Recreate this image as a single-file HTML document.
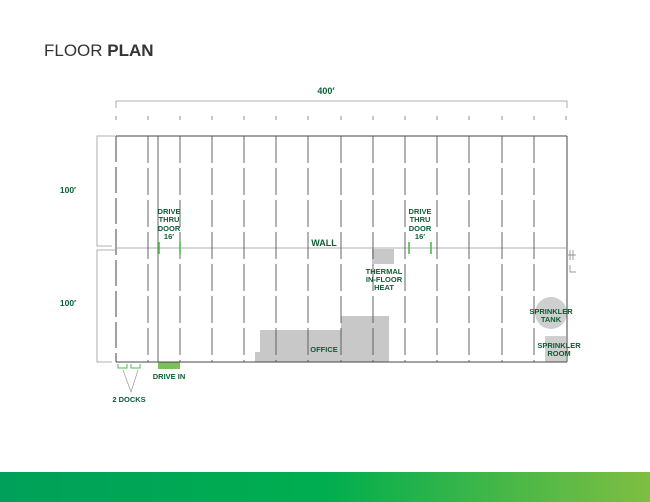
<!DOCTYPE html>
<html><head><style>
html,body{margin:0;padding:0;background:#fff;}
svg{display:block}
text{font-family:"Liberation Sans",sans-serif;}
.g{fill:#0b5e34;font-weight:bold;font-size:7.5px;text-anchor:middle}
</style></head><body>
<svg width="650" height="502" viewBox="0 0 650 502" xmlns="http://www.w3.org/2000/svg">
<defs><linearGradient id="bar" x1="0" x2="1" y1="0" y2="0">
<stop offset="0" stop-color="#00a05a"/><stop offset="0.5" stop-color="#00ae4f"/><stop offset="1" stop-color="#7fbe42"/></linearGradient></defs>
<text x="44" y="56" font-size="17" fill="#333">FLOOR <tspan font-weight="bold">PLAN</tspan></text>
<text x="326" y="94" class="g" style="font-size:9px">400′</text>
<path d="M116 108 V101 H567 V108" fill="none" stroke="#999" stroke-width="0.8"/>
<g stroke="#777" stroke-width="0.8">
<line x1="116" y1="116" x2="116" y2="120"/><line x1="148" y1="116" x2="148" y2="120"/><line x1="180" y1="116" x2="180" y2="120"/><line x1="212" y1="116" x2="212" y2="120"/><line x1="244" y1="116" x2="244" y2="120"/><line x1="276" y1="116" x2="276" y2="120"/><line x1="308" y1="116" x2="308" y2="120"/><line x1="341" y1="116" x2="341" y2="120"/><line x1="373" y1="116" x2="373" y2="120"/><line x1="405" y1="116" x2="405" y2="120"/><line x1="437" y1="116" x2="437" y2="120"/><line x1="469" y1="116" x2="469" y2="120"/><line x1="502" y1="116" x2="502" y2="120"/><line x1="534" y1="116" x2="534" y2="120"/><line x1="566" y1="116" x2="566" y2="120"/>
</g>
<path d="M115 136 H97 V246 H112 M115 250 H97 V362 H112" fill="none" stroke="#999" stroke-width="0.8"/>
<text x="68" y="193" class="g" style="font-size:8.5px">100′</text>
<text x="68" y="306" class="g" style="font-size:8.5px">100′</text>
<path d="M255 362 V352 H260 V330 H341 V316 H389 V362 Z" fill="#c8c8c8"/>
<rect x="372" y="249" width="22" height="15" fill="#c8c8c8"/>
<circle cx="551" cy="313" r="16" fill="#cfcfcf"/>
<rect x="545" y="336" width="21" height="26" fill="#cfcfcf"/>
<rect x="158" y="362" width="22" height="7" fill="#7cc05a"/>
<g stroke="#444" stroke-width="1">
<line x1="116" y1="136" x2="567" y2="136"/>
<line x1="116" y1="362" x2="567" y2="362"/>
<line x1="116" y1="136" x2="116" y2="362" stroke-dasharray="26,5"/>
<line x1="567" y1="136" x2="567" y2="362"/>
</g>
<line x1="116" y1="248" x2="567" y2="248" stroke="#999" stroke-width="0.8"/>
<g stroke="#555" stroke-width="0.9" stroke-dasharray="27,5">
<line x1="148" y1="136" x2="148" y2="362"/><line x1="180" y1="136" x2="180" y2="362"/><line x1="212" y1="136" x2="212" y2="362"/><line x1="244" y1="136" x2="244" y2="362"/><line x1="276" y1="136" x2="276" y2="362"/><line x1="308" y1="136" x2="308" y2="362"/><line x1="341" y1="136" x2="341" y2="362"/><line x1="373" y1="136" x2="373" y2="362"/><line x1="405" y1="136" x2="405" y2="362"/><line x1="437" y1="136" x2="437" y2="362"/><line x1="469" y1="136" x2="469" y2="362"/><line x1="502" y1="136" x2="502" y2="362"/><line x1="534" y1="136" x2="534" y2="362"/>
</g>
<line x1="158" y1="136" x2="158" y2="362" stroke="#555" stroke-width="0.9"/>
<g stroke="#4cbb4a" stroke-width="1.6">
<line x1="159" y1="242" x2="159" y2="254"/><line x1="180" y1="242" x2="180" y2="254"/>
<line x1="409" y1="242" x2="409" y2="254"/><line x1="431" y1="242" x2="431" y2="254"/>
</g>
<g stroke="#4cbb4a" stroke-width="1" fill="none">
<path d="M118 364 V368 H127 V364 M131 364 V368 H140 V364"/>
</g>
<path d="M123 370 L131 392 L138 370" fill="none" stroke="#999" stroke-width="0.7"/>
<path d="M570 250 V260 M573 250 V260 M568 255 H576 M570 265 V272 H576" stroke="#777" stroke-width="0.7" fill="none"/>
<text class="g" x="169" y="214">DRIVE</text><text class="g" x="169" y="222">THRU</text><text class="g" x="169" y="231">DOOR</text><text class="g" x="169" y="239">16′</text>
<text class="g" x="420" y="214">DRIVE</text><text class="g" x="420" y="222">THRU</text><text class="g" x="420" y="231">DOOR</text><text class="g" x="420" y="239">16′</text>
<text class="g" x="324" y="246" style="font-size:9px">WALL</text>
<text class="g" x="384" y="274">THERMAL</text><text class="g" x="384" y="282">IN-FLOOR</text><text class="g" x="384" y="290">HEAT</text>
<text class="g" x="324" y="352">OFFICE</text>
<text class="g" x="551" y="314">SPRINKLER</text><text class="g" x="551" y="322">TANK</text>
<text class="g" x="559" y="348">SPRINKLER</text><text class="g" x="559" y="356">ROOM</text>
<text class="g" x="169" y="379">DRIVE IN</text>
<text class="g" x="129" y="402">2 DOCKS</text>
<rect x="0" y="472" width="650" height="30" fill="url(#bar)"/>
</svg>
</body></html>
